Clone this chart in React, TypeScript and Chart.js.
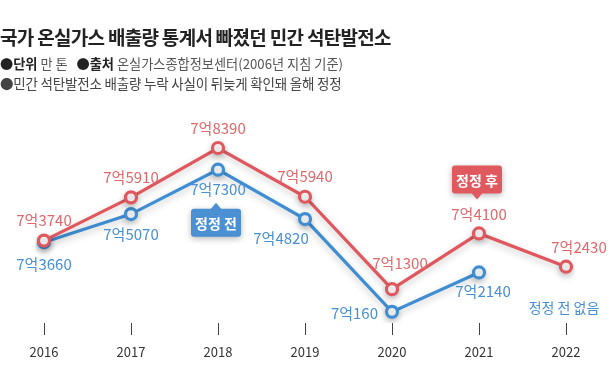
import React, { useEffect, useRef } from "react";
import { Chart, registerables } from "chart.js";

Chart.register(...registerables);

const years = ["2016", "2017", "2018", "2019", "2020", "2021", "2022"];
// 단위: 만 톤
const afterValues = [73740, 75910, 78390, 75940, 71300, 74100, 72430];
const beforeValues: (number | null)[] = [73660, 75070, 77300, 74820, 70160, 72140, null];

const RED = "#E0585E";
const BLUE = "#3F8DD2";
const RED_TEXT = "#E0686C";
const BLUE_TEXT = "#4790D4";
const FONT = '"Noto Sans CJK KR", "Noto Sans", sans-serif';

function fmt(v: number): string {
  const eok = Math.floor(v / 10000);
  const rest = v % 10000;
  return `${eok}억${rest}`;
}

// label placement per point: [dx, dy, align]
const redPlace: [number, number, CanvasTextAlign][] = [
  [0, -20, "center"], [0, -20, "center"], [0, -20, "center"], [0, -20, "center"],
  [8, -26, "center"], [0, -19, "center"], [13, -19, "center"],
];
const bluePlace: [number, number, CanvasTextAlign][] = [
  [0, 22, "center"], [0, 20, "center"], [0, 20, "center"], [-24, 19, "center"],
  [-14, 1, "right"], [4, 19, "center"],
];

function roundRect(ctx: CanvasRenderingContext2D, x: number, y: number, w: number, h: number, r: number) {
  ctx.beginPath();
  ctx.moveTo(x + r, y);
  ctx.lineTo(x + w - r, y);
  ctx.quadraticCurveTo(x + w, y, x + w, y + r);
  ctx.lineTo(x + w, y + h - r);
  ctx.quadraticCurveTo(x + w, y + h, x + w - r, y + h);
  ctx.lineTo(x + r, y + h);
  ctx.quadraticCurveTo(x, y + h, x, y + h - r);
  ctx.lineTo(x, y + r);
  ctx.quadraticCurveTo(x, y, x + r, y);
  ctx.closePath();
}

function callout(ctx: CanvasRenderingContext2D, cx: number, tipY: number, up: boolean, text: string, color: string) {
  const w = 50, h = 28, th = 6, tw = 6;
  const top = up ? tipY + th : tipY - th - h;
  ctx.save();
  ctx.shadowColor = "rgba(0,0,0,0.28)";
  ctx.shadowBlur = 6;
  ctx.shadowOffsetY = 2;
  ctx.fillStyle = color;
  roundRect(ctx, cx - w / 2, top, w, h, 3);
  ctx.fill();
  ctx.shadowColor = "transparent";
  ctx.beginPath();
  if (up) {
    ctx.moveTo(cx - tw, top + 1);
    ctx.lineTo(cx, tipY);
    ctx.lineTo(cx + tw, top + 1);
  } else {
    ctx.moveTo(cx - tw, top + h - 1);
    ctx.lineTo(cx, tipY);
    ctx.lineTo(cx + tw, top + h - 1);
  }
  ctx.closePath();
  ctx.fill();
  ctx.fillStyle = "#fff";
  ctx.font = `bold 14px ${FONT}`;
  ctx.textAlign = "center";
  ctx.textBaseline = "middle";
  ctx.fillText(text, cx, top + h / 2 + 1);
  ctx.restore();
}

const shadowPlugin = {
  id: "lineShadow",
  beforeDatasetsDraw(chart: any) {
    const ctx = chart.ctx;
    ctx.save();
    ctx.shadowColor = "rgba(0,0,0,0.22)";
    ctx.shadowBlur = 7;
    ctx.shadowOffsetY = 3;
  },
  afterDatasetsDraw(chart: any) {
    chart.ctx.restore();
  },
};

const labelPlugin = {
  id: "valueLabels",
  afterDraw(chart: any) {
    const ctx: CanvasRenderingContext2D = chart.ctx;
    ctx.save();
    ctx.font = `15px ${FONT}`;
    ctx.textBaseline = "middle";
    const redMeta = chart.getDatasetMeta(0);
    const blueMeta = chart.getDatasetMeta(1);
    redMeta.data.forEach((pt: any, i: number) => {
      const v = afterValues[i];
      const [dx, dy, al] = redPlace[i];
      ctx.fillStyle = RED_TEXT;
      ctx.textAlign = al;
      ctx.fillText(fmt(v), pt.x + dx, pt.y + dy);
    });
    blueMeta.data.forEach((pt: any, i: number) => {
      const v = beforeValues[i];
      if (v == null) return;
      const [dx, dy, al] = bluePlace[i];
      ctx.fillStyle = BLUE_TEXT;
      ctx.textAlign = al;
      ctx.fillText(fmt(v), pt.x + dx, pt.y + dy);
    });
    // "no pre-correction value" note at 2022
    const xs = chart.scales.x;
    const lastX = xs.getPixelForValue(years.length - 1);
    ctx.fillStyle = BLUE_TEXT;
    ctx.textAlign = "center";
    ctx.font = `14px ${FONT}`;
    ctx.fillText("정정 전 없음", lastX - 2, chart.chartArea.bottom - 15);
    ctx.restore();

    // callouts
    const b18 = blueMeta.data[2];
    callout(ctx, b18.x - 2, b18.y + 33, true, "정정 전", "#4A90D2");
    const r21 = redMeta.data[5];
    callout(ctx, r21.x - 2, r21.y - 34, false, "정정 후", "#E0595F");
  },
};

export default function App() {
  const ref = useRef<HTMLCanvasElement | null>(null);
  useEffect(() => {
    document.body.style.margin = "0";
    const chart = new Chart(ref.current!, {
      type: "line",
      data: {
        labels: years,
        datasets: [
          {
            label: "정정 후",
            data: afterValues,
            borderColor: RED,
            backgroundColor: "#fff",
            borderWidth: 3.2,
            pointRadius: 5.5,
            pointBorderWidth: 3.2,
            pointBackgroundColor: "#fff",
            pointBorderColor: RED,
            tension: 0,
          },
          {
            label: "정정 전",
            data: beforeValues,
            borderColor: BLUE,
            backgroundColor: "#fff",
            borderWidth: 3.2,
            pointRadius: 5.5,
            pointBorderWidth: 3.2,
            pointBackgroundColor: "#fff",
            pointBorderColor: BLUE,
            tension: 0,
          },
        ],
      },
      options: {
        animation: false,
        responsive: false,
        maintainAspectRatio: false,
        layout: { padding: { left: 44, right: 44, top: 100, bottom: 0 } },
        plugins: { legend: { display: false }, tooltip: { enabled: false } },
        scales: {
          x: {
            offset: false,
            grid: {
              display: true,
              drawOnChartArea: false,
              drawTicks: true,
              tickLength: 12,
              color: "#444",
              lineWidth: 1,
            },
            border: { display: false },
            ticks: {
              padding: 9,
              color: "#333",
              font: { family: FONT, size: 13 },
              maxRotation: 0,
            },
            afterFit(axis: any) {
              axis.height = 59;
            },
          },
          y: {
            display: false,
            min: 69600,
            max: 80800,
          },
        },
      },
      plugins: [shadowPlugin, labelPlugin],
    });
    return () => chart.destroy();
  }, []);

  return (
    <div style={{ position: "fixed", left: 0, top: 0, width: 610, height: 382, background: "#fff", fontFamily: FONT }}>
      <canvas ref={ref} width={610} height={382} style={{ position: "absolute", left: 0, top: 0, width: 610, height: 382 }} />
      <div style={{ position: "absolute", left: 0, top: 25, fontSize: 19, lineHeight: "23px", fontWeight: 700, color: "#222", letterSpacing: "-0.7px", whiteSpace: "nowrap" }}>
        국가 온실가스 배출량 통계서 빠졌던 민간 석탄발전소
      </div>
      <div style={{ position: "absolute", left: 0, top: 55, fontSize: 13.2, lineHeight: "17px", color: "#555", letterSpacing: "0px", whiteSpace: "nowrap" }}>
        <b style={{ color: "#222" }}>●단위</b> 만 톤&nbsp;&nbsp; <b style={{ color: "#222" }}>●출처</b> 온실가스종합정보센터(2006년 지침 기준)
      </div>
      <div style={{ position: "absolute", left: 0, top: 75, fontSize: 13.5, lineHeight: "17px", color: "#444", letterSpacing: "-0.2px", whiteSpace: "nowrap" }}>
        ●민간 석탄발전소 배출량 누락 사실이 뒤늦게 확인돼 올해 정정
      </div>
    </div>
  );
}
